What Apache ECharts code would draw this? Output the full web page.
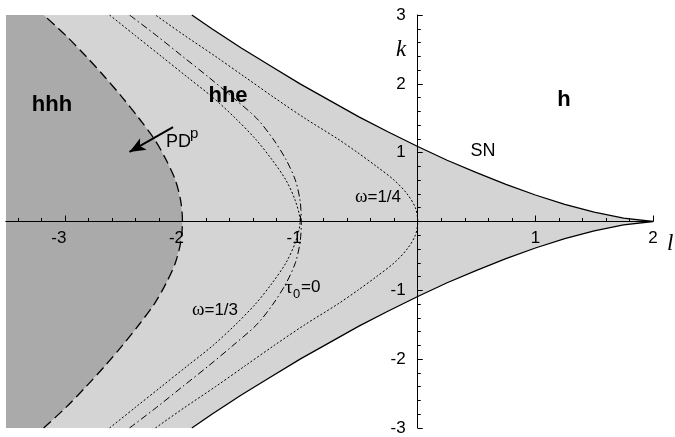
<!DOCTYPE html>
<html>
<head>
<meta charset="utf-8">
<script src="https://cdn.jsdelivr.net/npm/echarts@6/dist/echarts.min.js"></script>
<style>
  html, body { margin: 0; padding: 0; background: #fff; }
  #chart { width: 675px; height: 437px; }
</style>
</head>
<body>
<div id="chart"></div>
<script>
// Parameter window (l horizontal, k vertical)
const lRange = [-3.5, 2];
const kRange = [-3, 3];

// Tick positions and labels
const xMajorTicks = [-3, -2, -1, 0, 1, 2];
const xMinorTicks = [-3.4, -3.2, -2.8, -2.6, -2.4, -2.2, -1.8, -1.6, -1.4, -1.2,
                     -0.8, -0.6, -0.4, -0.2, 0.2, 0.4, 0.6, 0.8, 1.2, 1.4, 1.6, 1.8];
const xLabelValues = [-3, -2, -1, 1, 2];
const yLabelValues = [-3, -2, -1, 1, 2, 3];

// Saddle-node curve SN (cusp at l = 2)
const snCurve = [
  [-1.92, -3.00], [-1.75, -2.80], [-1.50, -2.52], [-1.25, -2.26], [-1.00, -2.00],
  [-0.75, -1.76], [-0.50, -1.52], [-0.25, -1.30], [0.00, -1.09], [0.25, -0.89],
  [0.50, -0.71], [0.75, -0.54], [1.00, -0.385], [1.25, -0.25], [1.50, -0.136],
  [1.75, -0.048], [2.00, 0.00],
  [1.75, 0.048], [1.50, 0.136], [1.25, 0.25], [1.00, 0.385], [0.75, 0.54],
  [0.50, 0.71], [0.25, 0.89], [0.00, 1.09], [-0.25, 1.30], [-0.50, 1.52],
  [-0.75, 1.76], [-1.00, 2.00], [-1.25, 2.26], [-1.50, 2.52], [-1.75, 2.80],
  [-1.92, 3.00]
];

// Period-doubling curve PD^p (boundary of hhh)
const pdCurve = [
  [-3.18, -3.0], [-2.99, -2.7], [-2.82, -2.4], [-2.66, -2.1], [-2.51, -1.8],
  [-2.37, -1.5], [-2.24, -1.2], [-2.14, -0.9], [-2.06, -0.6], [-2.015, -0.3],
  [-2.00, 0.0],
  [-2.015, 0.3], [-2.06, 0.6], [-2.14, 0.9], [-2.24, 1.2], [-2.37, 1.5],
  [-2.51, 1.8], [-2.66, 2.1], [-2.82, 2.4], [-2.99, 2.7], [-3.18, 3.0]
];

// Curve omega = 1/3
const omegaThird = [
  [-2.62, -3.0], [-2.40, -2.7], [-2.18, -2.4], [-1.96, -2.1], [-1.74, -1.8],
  [-1.55, -1.5], [-1.38, -1.2], [-1.24, -0.9], [-1.12, -0.6], [-1.04, -0.3],
  [-1.00, 0.0],
  [-1.04, 0.3], [-1.12, 0.6], [-1.24, 0.9], [-1.38, 1.2], [-1.55, 1.5],
  [-1.74, 1.8], [-1.96, 2.1], [-2.18, 2.4], [-2.40, 2.7], [-2.62, 3.0]
];

// Curve tau_0 = 0
const tauZero = [
  [-2.45, -3.0], [-2.22, -2.7], [-2.00, -2.4], [-1.78, -2.1], [-1.57, -1.8],
  [-1.37, -1.5], [-1.23, -1.2], [-1.12, -0.9], [-1.04, -0.6], [-1.00, -0.3],
  [-0.99, 0.0],
  [-1.00, 0.3], [-1.04, 0.6], [-1.12, 0.9], [-1.23, 1.2], [-1.37, 1.5],
  [-1.57, 1.8], [-1.78, 2.1], [-2.00, 2.4], [-2.22, 2.7], [-2.45, 3.0]
];

// Curve omega = 1/4
const omegaQuarter = [
  [-2.23, -3.0], [-1.98, -2.7], [-1.72, -2.4], [-1.47, -2.1], [-1.22, -1.8],
  [-0.96, -1.5], [-0.68, -1.2], [-0.51, -1.0], [-0.35, -0.8], [-0.20, -0.6],
  [-0.09, -0.4], [-0.02, -0.2], [0.00, 0.0],
  [-0.02, 0.2], [-0.09, 0.4], [-0.20, 0.6], [-0.35, 0.8], [-0.51, 1.0],
  [-0.68, 1.2], [-0.96, 1.5], [-1.22, 1.8], [-1.47, 2.1], [-1.72, 2.4],
  [-1.98, 2.7], [-2.23, 3.0]
];

// Arrow pointing across PD^p into hhh
const pdArrow = [[-2.08, 1.37], [-2.45, 1.01]];

// Filled regions: everything left of SN, and hhh left of PD^p
const lightRegion = [[lRange[0], kRange[0]]].concat(snCurve, [[lRange[0], kRange[1]]]);
const darkRegion = [[lRange[0], kRange[0]]].concat(pdCurve, [[lRange[0], kRange[1]]]);

const SANS = '"Liberation Sans", Arial, Helvetica, sans-serif';
const SERIF = '"Liberation Serif", "Times New Roman", serif';

// Plot box inside the 675x437 canvas
const W = 675, H = 437;
const GRID = { left: 6, right: 22, top: 15, bottom: 9 };
const plotW = W - GRID.left - GRID.right;
const plotH = H - GRID.top - GRID.bottom;
// Shift the axes so they cross at the origin (labels and ticks travel with them)
const yAxisShift = -plotW * (0 - lRange[0]) / (lRange[1] - lRange[0]);
const xAxisShift = -plotH * (0 - kRange[0]) / (kRange[1] - kRange[0]);

function regionSeries(points, color) {
  return {
    type: 'custom',
    z: 1,
    silent: true,
    clip: true,
    data: [[lRange[0], kRange[0]]],
    renderItem: function (params, api) {
      return {
        type: 'polygon',
        shape: { points: points.map(function (p) { return api.coord(p); }) },
        style: { fill: color }
      };
    }
  };
}

function curveSeries(points, lineStyle, extra) {
  return Object.assign({
    type: 'line',
    data: points,
    symbol: 'none',
    showSymbol: false,
    smooth: 0.3,
    z: 5,
    silent: true,
    clip: true,
    lineStyle: lineStyle
  }, extra || {});
}

const tickLabelStyle = { fontSize: 17, color: '#000', fontFamily: SANS };

const chart = echarts.init(document.getElementById('chart'), null, { renderer: 'canvas' });

chart.setOption({
  animation: false,
  backgroundColor: '#fff',
  grid: Object.assign({ containLabel: false, outerBoundsMode: 'none' }, GRID),
  xAxis: [
    {
      type: 'value', min: lRange[0], max: lRange[1], position: 'bottom', offset: xAxisShift, z: 3,
      axisLine: { show: true, onZero: false, lineStyle: { color: '#000', width: 1 } },
      axisTick: { show: true, inside: true, length: 6, customValues: xMajorTicks, lineStyle: { color: '#000' } },
      axisLabel: {
        show: true, customValues: xLabelValues, margin: 8,
        fontSize: 17, color: '#000', fontFamily: SANS,
        formatter: function (v) { return v < 0 ? '{neg|' + v + '}' : String(v); },
        rich: { neg: Object.assign({ padding: [0, 12, 0, 0] }, tickLabelStyle) }
      },
      splitLine: { show: false }
    },
    {
      type: 'value', min: lRange[0], max: lRange[1], position: 'bottom', offset: xAxisShift, z: 3,
      axisLine: { show: true, onZero: false, lineStyle: { color: '#000', width: 1 } },
      axisTick: { show: true, inside: true, length: 3.5, customValues: xMinorTicks, lineStyle: { color: '#000' } },
      axisLabel: { show: false },
      splitLine: { show: false }
    }
  ],
  yAxis: {
    type: 'value', min: kRange[0], max: kRange[1], interval: 1, position: 'left', offset: yAxisShift, z: 3,
    axisLine: { show: true, onZero: false, lineStyle: { color: '#000', width: 1 } },
    axisTick: { show: true, inside: true, length: 5, lineStyle: { color: '#000' } },
    minorTick: { show: true, splitNumber: 5, length: 3, lineStyle: { color: '#000' } },
    axisLabel: {
      show: true, margin: 12, fontSize: 17, color: '#000', fontFamily: SANS,
      formatter: function (v) { return yLabelValues.indexOf(v) >= 0 ? String(v) : ''; }
    },
    splitLine: { show: false }
  },
  series: [
    regionSeries(lightRegion, '#d4d4d4'),
    regionSeries(darkRegion, '#aaaaaa'),
    curveSeries(snCurve, { color: '#000', width: 1.3, type: 'solid' }, { smooth: false }),
    curveSeries(pdCurve, { color: '#000', width: 1.3, type: [10, 5] }, {
      markLine: {
        silent: true,
        symbol: ['none', 'arrow'],
        symbolSize: [10, 16],
        label: { show: false },
        lineStyle: { color: '#000', width: 2, type: 'solid' },
        data: [[{ coord: pdArrow[0] }, { coord: pdArrow[1] }]]
      }
    }),
    curveSeries(omegaThird, { color: '#000', width: 1, type: [2, 2] }),
    curveSeries(tauZero, { color: '#000', width: 1, type: [7, 3, 1.5, 3] }),
    curveSeries(omegaQuarter, { color: '#000', width: 1, type: [2, 2] })
  ],
  graphic: [
    { type: 'text', z: 10, silent: true, style: { text: 'hhh', x: 52, y: 105, textAlign: 'center', textVerticalAlign: 'middle', fontSize: 22, fontWeight: 'bold', fontFamily: SANS, fill: '#000' } },
    { type: 'text', z: 10, silent: true, style: { text: 'hhe', x: 228, y: 96, textAlign: 'center', textVerticalAlign: 'middle', fontSize: 22, fontWeight: 'bold', fontFamily: SANS, fill: '#000' } },
    { type: 'text', z: 10, silent: true, style: { text: 'h', x: 564, y: 100, textAlign: 'center', textVerticalAlign: 'middle', fontSize: 22, fontWeight: 'bold', fontFamily: SANS, fill: '#000' } },
    { type: 'text', z: 10, silent: true, style: { text: 'SN', x: 483, y: 151, textAlign: 'center', textVerticalAlign: 'middle', fontSize: 18, fontFamily: SANS, fill: '#000' } },
    { type: 'text', z: 10, silent: true, style: { text: 'PD', x: 166, y: 142, textAlign: 'left', textVerticalAlign: 'middle', fontSize: 18, fontFamily: SANS, fill: '#000' } },
    { type: 'text', z: 10, silent: true, style: { text: 'p', x: 190, y: 134, textAlign: 'left', textVerticalAlign: 'middle', fontSize: 15, fontFamily: SANS, fill: '#000' } },
    { type: 'text', z: 10, silent: true, style: { text: '{g|ω}=1/4', x: 378, y: 197, textAlign: 'center', textVerticalAlign: 'middle', fontSize: 17, fontFamily: SANS, fill: '#000', rich: { g: { fontSize: 19, fontFamily: SERIF, fill: '#000' } } } },
    { type: 'text', z: 10, silent: true, style: { text: '{g|ω}=1/3', x: 215, y: 310, textAlign: 'center', textVerticalAlign: 'middle', fontSize: 17, fontFamily: SANS, fill: '#000', rich: { g: { fontSize: 19, fontFamily: SERIF, fill: '#000' } } } },
    { type: 'text', z: 10, silent: true, style: { text: 'τ', x: 285, y: 288, textAlign: 'left', textVerticalAlign: 'middle', fontSize: 19, fontFamily: SERIF, fill: '#000' } },
    { type: 'text', z: 10, silent: true, style: { text: '0', x: 293, y: 294, textAlign: 'left', textVerticalAlign: 'middle', fontSize: 13, fontFamily: SANS, fill: '#000' } },
    { type: 'text', z: 10, silent: true, style: { text: '=0', x: 301, y: 287, textAlign: 'left', textVerticalAlign: 'middle', fontSize: 17, fontFamily: SANS, fill: '#000' } },
    { type: 'text', z: 10, silent: true, style: { text: 'k', x: 401, y: 50, textAlign: 'center', textVerticalAlign: 'middle', fontSize: 23, fontStyle: 'italic', fontFamily: SERIF, fill: '#000' } },
    { type: 'text', z: 10, silent: true, style: { text: 'l', x: 667, y: 244, textAlign: 'left', textVerticalAlign: 'middle', fontSize: 23, fontStyle: 'italic', fontFamily: SERIF, fill: '#000' } }
  ]
});
</script>
</body>
</html>
